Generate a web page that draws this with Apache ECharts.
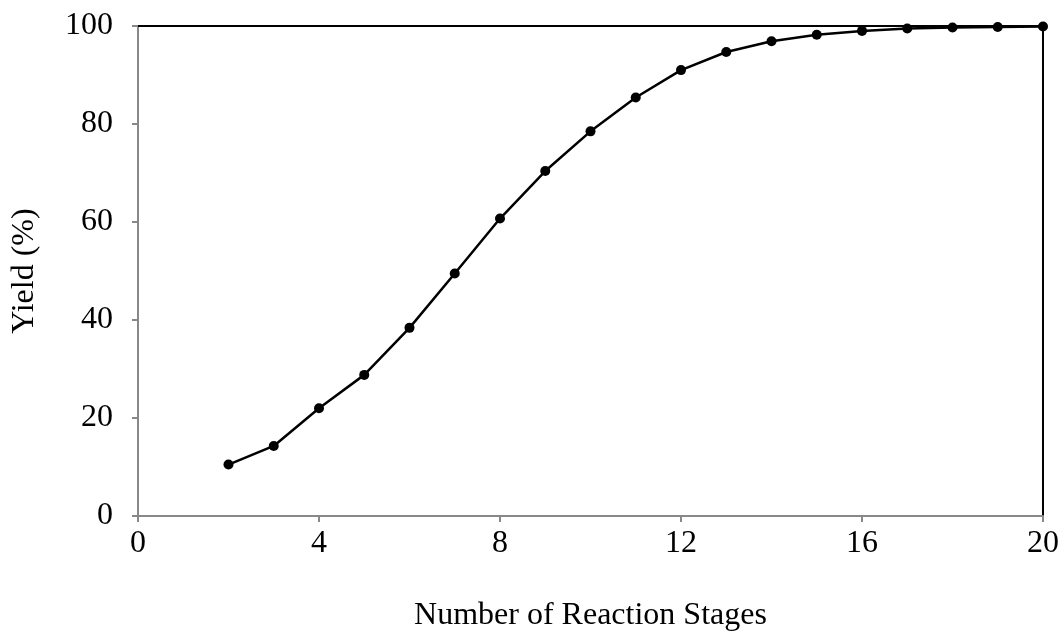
<!DOCTYPE html>
<html>
<head>
<meta charset="utf-8">
<script src="https://cdn.jsdelivr.net/npm/echarts@6/dist/echarts.min.js"></script>
<style>
html,body{margin:0;padding:0;background:#fff;}
#chart{width:1062px;height:636px;}
</style>
</head>
<body>
<div id="chart"></div>
<script>
const stages = [2,3,4,5,6,7,8,9,10,11,12,13,14,15,16,17,18,19,20];
const yieldPct = [10.5,14.3,22.0,28.8,38.4,49.5,60.7,70.4,78.5,85.4,91.0,94.7,96.9,98.2,99.0,99.5,99.7,99.8,99.9];
const xTicks = {min:0, max:20, interval:4};
const yTicks = {min:0, max:100, interval:20};
const xTitle = 'Number of Reaction Stages';
const yTitle = 'Yield (%)';

const font = 'Liberation Serif';
const fs = 32;
const chart = echarts.init(document.getElementById('chart'), null, {renderer:'canvas'});
const points = stages.map((s,i)=>[s, yieldPct[i]]);
chart.setOption({
  animation:false,
  backgroundColor:'#fff',
  grid:{left:138, right:19, top:26, bottom:120, containLabel:false, outerBoundsMode:'none'},
  xAxis:[{
    type:'value', min:xTicks.min, max:xTicks.max, interval:xTicks.interval,
    name:xTitle, nameLocation:'middle', nameGap:84,
    nameTextStyle:{fontFamily:font, fontSize:fs, color:'#000'},
    axisLine:{show:true, onZero:false, lineStyle:{color:'#888', width:2}},
    axisTick:{show:true, inside:false, length:6, lineStyle:{color:'#888', width:2}},
    axisLabel:{fontFamily:font, fontSize:fs, color:'#000', margin:12},
    splitLine:{show:false}
  },{
    type:'value', position:'top', min:xTicks.min, max:xTicks.max,
    axisLine:{show:true, onZero:false, lineStyle:{color:'#000', width:2}},
    axisTick:{show:false}, axisLabel:{show:false}, splitLine:{show:false}
  }],
  yAxis:[{
    type:'value', min:yTicks.min, max:yTicks.max, interval:yTicks.interval,
    name:yTitle, nameLocation:'middle', nameGap:97, nameRotate:90,
    nameTextStyle:{fontFamily:font, fontSize:fs, color:'#000'},
    axisLine:{show:true, onZero:false, lineStyle:{color:'#888', width:2}},
    axisTick:{show:true, inside:false, length:6, lineStyle:{color:'#888', width:2}},
    axisLabel:{fontFamily:font, fontSize:fs, color:'#000', margin:25},
    splitLine:{show:false}
  },{
    type:'value', position:'right', min:yTicks.min, max:yTicks.max,
    axisLine:{show:true, onZero:false, lineStyle:{color:'#000', width:2}},
    axisTick:{show:false}, axisLabel:{show:false}, splitLine:{show:false}
  }],
  series:[{
    type:'line', data:points, xAxisIndex:0, yAxisIndex:0,
    symbol:'circle', symbolSize:10, showSymbol:true,
    lineStyle:{color:'#000', width:2.5},
    itemStyle:{color:'#000'},
    z:5
  }]
});
</script>
</body>
</html>
